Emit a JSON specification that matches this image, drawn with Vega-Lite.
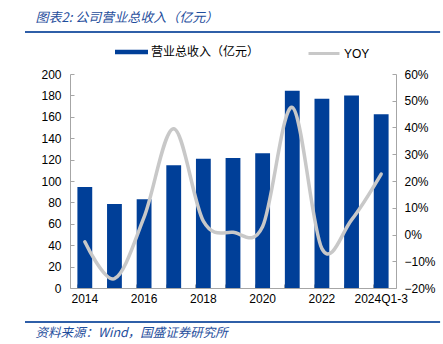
{
  "$schema": "https://vega.github.io/schema/vega-lite/v6.json",
  "width": 326,
  "height": 214,
  "autosize": "none",
  "padding": {"left": 70, "top": 74, "right": 47, "bottom": 56},
  "background": "white",
  "config": {
    "view": {"stroke": null},
    "font": "Liberation Sans",
    "axis": {
      "labelFont": "Liberation Sans",
      "labelFontSize": 12,
      "labelColor": "#000000",
      "domainColor": "#a6a6a6",
      "tickColor": "#a6a6a6",
      "grid": false
    }
  },
  "data": {
    "values": [
      {"period": "2014", "revenue": 94.5, "yoy": -0.027},
      {"period": "2015", "revenue": 78.5, "yoy": -0.165},
      {"period": "2016", "revenue": 83, "yoy": 0.065},
      {"period": "2017", "revenue": 114.7, "yoy": 0.395},
      {"period": "2018", "revenue": 120.8, "yoy": 0.05},
      {"period": "2019", "revenue": 121.5, "yoy": 0.008},
      {"period": "2020", "revenue": 125.9, "yoy": 0.03},
      {"period": "2021", "revenue": 184.4, "yoy": 0.475},
      {"period": "2022", "revenue": 176.9, "yoy": -0.053},
      {"period": "2023", "revenue": 180, "yoy": 0.055},
      {"period": "2024Q1-3", "revenue": 162.3, "yoy": 0.226}
    ]
  },
  "layer": [
    {
      "mark": {"type": "bar"},
      "encoding": {
        "x": {
          "field": "period",
          "type": "nominal",
          "sort": null,
          "scale": {"paddingInner": 0.5, "paddingOuter": 0.25},
          "axis": {
            "labelAngle": 0,
            "bandPosition": 0,
            "labelPadding": 9,
            "labelOverlap": false,
            "labelFlush": false,
            "labelBound": false,
            "tickSize": -4,
            "labelExpr": "(datum.value == '2014' || datum.value == '2016' || datum.value == '2018' || datum.value == '2020' || datum.value == '2022' || datum.value == '2024Q1-3') ? datum.label : ''",
            "title": "资料来源：Wind，国盛证券研究所",
            "titleAnchor": "start",
            "titleAlign": "left",
            "titleX": -35,
            "titleY": 44,
            "titleBaseline": "middle",
            "titleFont": "Noto Sans CJK SC",
            "titleFontSize": 12.5,
            "titleFontStyle": "italic",
            "titleFontWeight": "normal",
            "titleColor": "#1f4e9c"
          }
        },
        "y": {
          "field": "revenue",
          "type": "quantitative",
          "scale": {"domain": [0, 200], "nice": false},
          "axis": {
            "orient": "left",
            "title": null,
            "values": [0, 20, 40, 60, 80, 100, 120, 140, 160, 180, 200],
            "tickSize": -4,
            "labelPadding": 13
          }
        },
        "fill": {
          "datum": "营业总收入（亿元）",
          "scale": {"range": ["#003f98"]},
          "legend": {
            "orient": "none",
            "legendX": 45,
            "legendY": -38.5,
            "direction": "horizontal",
            "title": null,
            "padding": 0,
            "symbolType": "M-1,-0.14H1V0.14H-1Z",
            "symbolSize": 1089,
            "symbolStrokeWidth": 0,
            "symbolOpacity": 1,
            "labelFont": "Noto Sans CJK SC",
            "labelFontSize": 12,
            "labelColor": "#000000",
            "labelOffset": 3
          }
        }
      }
    },
    {
      "mark": {"type": "line", "interpolate": "cardinal", "strokeWidth": 3.5, "strokeCap": "round"},
      "encoding": {
        "x": {
          "field": "period",
          "type": "nominal",
          "sort": null,
          "scale": {"paddingInner": 0.5, "paddingOuter": 0.25},
          "axis": {
            "orient": "top",
            "offset": 42,
            "domain": false,
            "ticks": false,
            "labels": false,
            "title": "图表2:  公司营业总收入（亿元）",
            "titleAnchor": "start",
            "titleAlign": "left",
            "titleX": -35,
            "titleY": -15,
            "titleBaseline": "middle",
            "titleFont": "Noto Sans CJK SC",
            "titleFontSize": 13,
            "titleFontStyle": "italic",
            "titleFontWeight": "normal",
            "titleColor": "#1f4e9c"
          }
        },
        "y": {
          "field": "yoy",
          "type": "quantitative",
          "scale": {"domain": [-0.2, 0.6], "nice": false},
          "axis": {
            "orient": "right",
            "title": null,
            "format": ".0%",
            "values": [-0.2, -0.1, 0, 0.1, 0.2, 0.3, 0.4, 0.5, 0.6],
            "tickSize": -4,
            "labelPadding": 12
          }
        },
        "stroke": {
          "datum": "YOY",
          "scale": {"range": ["#c8c8c8"]},
          "legend": {
            "orient": "none",
            "legendX": 237,
            "legendY": -37.5,
            "direction": "horizontal",
            "title": null,
            "padding": 0,
            "symbolType": "M-1,0H1",
            "symbolSize": 961,
            "symbolStrokeWidth": 3,
            "labelFont": "Liberation Sans",
            "labelFontSize": 12,
            "labelColor": "#000000",
            "labelOffset": 3
          }
        }
      }
    },
    {
      "layer": [
        {
          "mark": {"type": "rule", "color": "#2f5fa8", "strokeWidth": 2},
          "encoding": {
            "x": {"datum": -0.138, "type": "quantitative", "scale": {"domain": [0, 1], "nice": false, "zero": false}, "axis": null},
            "x2": {"datum": 1.135},
            "y": {"datum": 1.196, "type": "quantitative", "scale": {"domain": [0, 1], "nice": false, "zero": false}, "axis": null}
          }
        },
        {
          "mark": {"type": "rule", "color": "#2f5fa8", "strokeWidth": 2},
          "encoding": {
            "x": {"datum": -0.138, "type": "quantitative", "axis": null},
            "x2": {"datum": 1.135},
            "y": {"datum": -0.159, "type": "quantitative", "axis": null}
          }
        }
      ]
    }
  ],
  "resolve": {"scale": {"x": "independent", "y": "independent"}, "axis": {"x": "independent"}}
}
